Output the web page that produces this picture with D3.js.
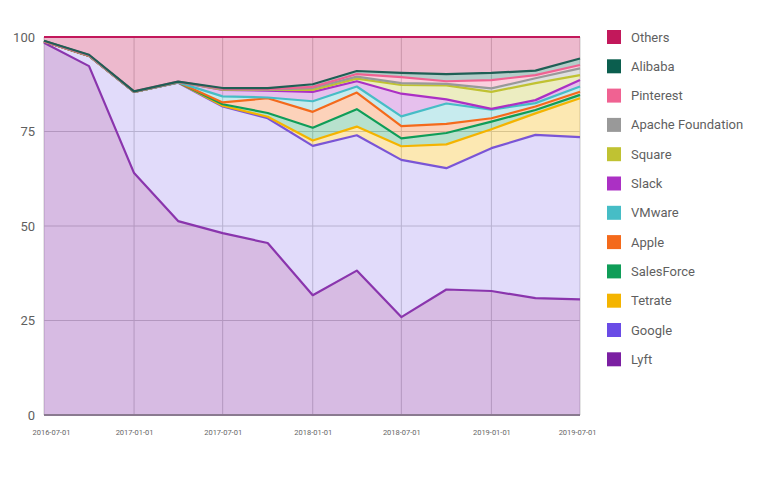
<!DOCTYPE html>
<html>
<head>
<meta charset="utf-8">
<script src="https://cdn.jsdelivr.net/npm/d3@7"></script>
<style>
  html, body { margin: 0; padding: 0; background: #fff; }
  svg { display: block; font-family: Roboto, "Noto Sans", sans-serif; }
</style>
</head>
<body>
<svg id="chart" width="768" height="477"></svg>
<script>
// ---- Data (percent share per quarter) ----
const dates = ["2016-07-01","2016-10-01","2017-01-01","2017-04-01","2017-07-01","2017-10-01",
               "2018-01-01","2018-04-01","2018-07-01","2018-10-01","2019-01-01","2019-04-01","2019-07-01"];
const xTickLabels = ["2016-07-01","2017-01-01","2017-07-01","2018-01-01","2018-07-01","2019-01-01","2019-07-01"];
const yTickValues = [0, 25, 50, 75, 100];

const lyft       = [98.5, 92.3, 64.0, 51.3, 48.1, 45.5, 31.7, 38.2, 25.9, 33.2, 32.8, 30.9, 30.6];
const google     = [0.3, 2.7, 21.5, 36.6, 33.5, 33.0, 39.5, 35.8, 41.6, 32.1, 37.8, 43.2, 42.9];
const tetrate    = [0, 0, 0, 0.1, 0.2, 0.4, 1.4, 2.3, 3.6, 6.3, 5.0, 5.7, 10.3];
const salesforce = [0, 0, 0, 0, 0.4, 1.0, 3.4, 4.6, 2.1, 3.0, 2.0, 0.9, 0.9];
const apple      = [0, 0, 0, 0, 0.5, 3.9, 4.2, 4.4, 3.2, 2.4, 0.9, 0.9, 0.8];
const vmware     = [0.1, 0.1, 0, 0, 1.6, 0.2, 2.8, 1.6, 2.6, 5.4, 2.3, 0.9, 1.4];
const slack      = [0, 0, 0, 0.1, 1.7, 1.8, 2.5, 1.4, 6.0, 1.1, 0.2, 0.8, 1.7];
const square     = [0, 0, 0, 0, 0.1, 0.2, 0.5, 0.7, 2.3, 3.7, 4.5, 4.5, 1.3];
const apache     = [0, 0, 0, 0, 0.1, 0.1, 0.5, 0.5, 0.5, 0.4, 0.9, 1.3, 1.8];
const pinterest  = [0, 0.1, 0.1, 0.1, 0.1, 0.1, 0.3, 0.7, 1.6, 0.7, 2.2, 0.8, 0.9];
const alibaba    = [0.1, 0.1, 0, 0, 0.2, 0.3, 0.7, 0.8, 1.1, 1.9, 1.9, 1.2, 1.7];
const others     = [1.0, 4.7, 14.4, 11.8, 13.5, 13.5, 12.5, 9.0, 9.5, 9.8, 9.5, 8.9, 5.7];

// stacking order: bottom -> top
const seriesNames = ["Lyft","Google","Tetrate","SalesForce","Apple","VMware","Slack","Square",
                     "Apache Foundation","Pinterest","Alibaba","Others"];
const seriesValues = [lyft, google, tetrate, salesforce, apple, vmware, slack, square,
                      apache, pinterest, alibaba, others];
const seriesColors = ["#7b1fa2","#6a4ce6","#f4b400","#0f9d58","#f46a1b","#46bdc6","#ab30c4",
                      "#c0c232","#999999","#f06292","#0b5e4e","#c2185b"];
const lineColors   = ["#8a35ad","#7a55d6","#f4b400","#0f9d58","#f46a1b","#46bdc6","#ab30c4",
                      "#c0c232","#999999","#f06292","#1f5f55","#c2185b"];
const fillOpacity  = [0.3, 0.2, 0.3, 0.3, 0.3, 0.3, 0.3, 0.3, 0.3, 0.3, 0.3, 0.3];

(function () {
  const parse = d3.utcParse("%Y-%m-%d");
  const table = dates.map((d, i) => {
    const row = { date: parse(d) };
    seriesNames.forEach((n, k) => row[n] = seriesValues[k][i]);
    return row;
  });

  const svg = d3.select("#chart");
  const pl = 44, pr = 580, pt = 37, pb = 415;

  const x = d3.scaleUtc().domain([parse(dates[0]), parse(dates[dates.length - 1])]).range([pl, pr]);
  const y = d3.scaleLinear().domain([0, 100]).range([pb, pt]);

  // gridlines
  const grid = svg.append("g");
  grid.selectAll("line.h").data(yTickValues).join("line").attr("class", "h")
    .attr("x1", pl).attr("x2", pr)
    .attr("y1", d => y(d)).attr("y2", d => y(d))
    .attr("stroke", "#cccccc").attr("stroke-width", 1);
  grid.selectAll("line.v").data(xTickLabels.map(parse)).join("line").attr("class", "v")
    .attr("x1", d => x(d)).attr("x2", d => x(d))
    .attr("y1", pt).attr("y2", pb)
    .attr("stroke", "#cccccc").attr("stroke-width", 1);

  // stacked areas
  const stack = d3.stack().keys(seriesNames).order(d3.stackOrderNone).offset(d3.stackOffsetNone);
  const layers = stack(table);

  const area = d3.area()
    .x(d => x(d.data.date))
    .y0(d => y(d[0]))
    .y1(d => y(d[1]));
  const line = d3.line()
    .x(d => x(d.data.date))
    .y(d => y(d[1]));

  svg.append("g").selectAll("path").data(layers).join("path")
    .attr("d", area)
    .attr("fill", (d, i) => seriesColors[i])
    .attr("fill-opacity", (d, i) => fillOpacity[i]);

  // baseline
  svg.append("line")
    .attr("x1", pl).attr("x2", pr)
    .attr("y1", y(0)).attr("y2", y(0))
    .attr("stroke", "#8a7a90").attr("stroke-width", 2);

  svg.append("g").selectAll("path").data(layers).join("path")
    .attr("d", line)
    .attr("fill", "none")
    .attr("stroke", (d, i) => lineColors[i])
    .attr("stroke-width", 2.2)
    .attr("stroke-linejoin", "round");

  // y axis labels
  const yAxis = d3.axisLeft(y).tickValues(yTickValues).tickSize(0).tickPadding(9);
  const yg = svg.append("g").attr("transform", `translate(${pl},0)`).call(yAxis);
  yg.select(".domain").remove();
  yg.selectAll("text").attr("font-size", 13).attr("fill", "#5f5f5f")
    .attr("font-family", "Roboto, sans-serif");

  // x axis labels
  const xAxis = d3.axisBottom(x).tickValues(xTickLabels.map(parse))
    .tickFormat(d3.utcFormat("%Y-%m-%d")).tickSize(0).tickPadding(15);
  const xg = svg.append("g").attr("transform", `translate(0,${pb})`).call(xAxis);
  xg.select(".domain").remove();
  xg.selectAll("text").attr("font-size", 7.5).attr("fill", "#666")
    .attr("font-family", "Roboto, sans-serif");
  xg.selectAll(".tick").each(function (d) {
    const t = d3.select(this).select("text");
    const w = t.node().getComputedTextLength();
    const cx = x(d);
    let shift = 0;
    if (cx - w / 2 < 32) shift = 32 - (cx - w / 2);
    if (cx + w / 2 > 596) shift = 596 - (cx + w / 2);
    t.attr("dx", shift);
  });

  // legend (top of stack first)
  const legendItems = seriesNames.map((n, i) => ({ name: n, color: seriesColors[i] })).reverse();
  const lg = svg.append("g").attr("transform", "translate(607,30)");
  const item = lg.selectAll("g").data(legendItems).join("g")
    .attr("transform", (d, i) => `translate(0,${i * 29.3})`);
  item.append("rect").attr("width", 14).attr("height", 14).attr("fill", d => d.color);
  item.append("text").attr("x", 24).attr("y", 7).attr("dy", "0.35em")
    .attr("font-size", 13).attr("fill", "#5f5f5f")
    .attr("font-family", "Roboto, sans-serif")
    .text(d => d.name);
})();
</script>
</body>
</html>
